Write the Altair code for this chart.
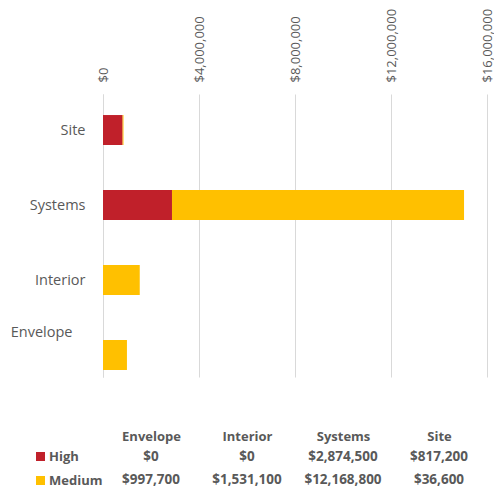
import altair as alt
import pandas as pd

categories = ["Envelope", "Interior", "Systems", "Site"]
series = ["High", "Medium"]
high = [0, 0, 2874500, 817200]
medium = [997700, 1531100, 12168800, 36600]
ticks = [0, 4000000, 8000000, 12000000, 16000000]
colors = ["#C0202A", "#FFC000"]
bar_order = ["Site", "Systems", "Interior", "Envelope"]

rows = []
for i, c in enumerate(categories):
    rows.append({"category": c, "series": "High", "value": high[i], "order": 0})
    rows.append({"category": c, "series": "Medium", "value": medium[i], "order": 1})
df = pd.DataFrame(rows)

FONT = "Open Sans"
TXT = "#595959"
GRID = "#d9d9d9"
W = 384

bars = alt.Chart(df).transform_filter("datum.value > 0").mark_bar().encode(
    x=alt.X("value:Q", stack="zero",
            scale=alt.Scale(domain=[0, 16000000], nice=False),
            axis=alt.Axis(orient="top", values=ticks, format="$,.0f", labelAngle=270,
                          labelAlign="left", labelBaseline="middle", labelPadding=12,
                          domain=False, ticks=False, grid=True, gridColor=GRID,
                          title=None, labelColor=TXT, labelFontSize=13, labelFont=FONT)),
    y=alt.Y("category:N", sort=bar_order,
            scale=alt.Scale(domain=bar_order, paddingInner=0.6, paddingOuter=0.187, align=0.75),
            axis=alt.Axis(title=None, ticks=False, domainColor=GRID, grid=False,
                          labelColor=TXT, labelFontSize=14.5, labelFont=FONT,
                          labelPadding={"condition": {"test": "datum.value == 'Envelope'", "value": 31}, "value": 18},
                          labelOffset={"condition": {"test": "datum.value == 'Envelope'", "value": -22}, "value": 1})),
    color=alt.Color("series:N", scale=alt.Scale(domain=series, range=colors),
                    legend=alt.Legend(orient="none", legendX=-69, legendY=356, title=None,
                                      symbolType="square", symbolSize=81, symbolStrokeWidth=0,
                                      labelFontSize=13, labelFont=FONT, labelColor=TXT,
                                      labelFontWeight="bold", rowPadding=10, labelOffset=2)),
    order=alt.Order("order:Q"),
).properties(width=W, height=283)

table = alt.Chart(df).mark_text(font=FONT, fontSize=13.5, color=TXT, fontWeight="bold").encode(
    x=alt.X("category:N", sort=categories,
            scale=alt.Scale(domain=categories, paddingInner=0, paddingOuter=0),
            axis=alt.Axis(orient="top", title=None, ticks=False, domain=False, labelAngle=0,
                          labelPadding=14, labelColor=TXT, labelFontSize=13, labelFont=FONT,
                          labelFontWeight="bold")),
    y=alt.Y("series:N", scale=alt.Scale(type="point", domain=series, padding=0), axis=None),
    text=alt.Text("value:Q", format="$,.0f"),
).properties(width=W, height=23)

chart = alt.vconcat(bars, table, spacing=53).properties(
    padding={"left": 2, "top": 0, "right": 0, "bottom": 0}
).configure_view(stroke=None)

chart.save("out.html", embed_options={"renderer": "svg", "actions": False})
